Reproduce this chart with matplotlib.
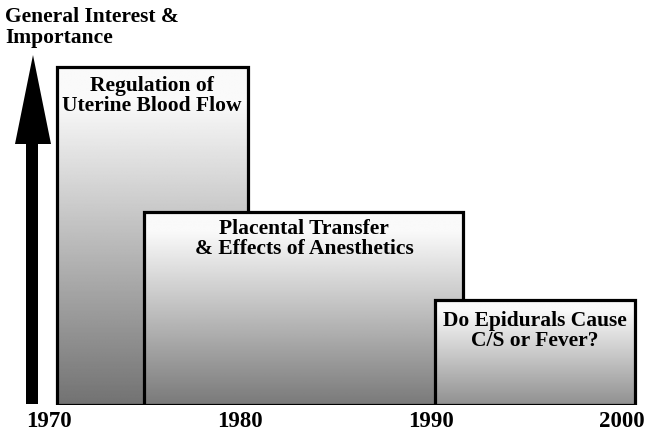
import numpy as np
import matplotlib
matplotlib.use("Agg")
import matplotlib.pyplot as plt
from matplotlib.patches import Rectangle, Polygon

# decades along the time axis
years = [1970, 1980, 1990, 2000]

# research topics: period covered and relative interest (0-100)
topics = ["Regulation of\nUterine Blood Flow",
          "Placental Transfer\n& Effects of Anesthetics",
          "Do Epidurals Cause\nC/S or Fever?"]
start = [1970.4, 1975.0, 1990.2]
end = [1980.4, 1991.7, 2000.7]
interest = [100, 57, 31]

# styling per box: grey at the bottom of the gradient, label offset (pt)
bottom_grey = [0.45, 0.48, 0.57]
label_offset = [7, 5, 8]

W, H = 648, 432
plt.rcParams["font.family"] = ["Liberation Serif", "DejaVu Serif"]
plt.rcParams["font.weight"] = "bold"

fig = plt.figure(figsize=(W / 100, H / 100), dpi=100)
base = 404.5  # pixel row of the box bottoms
ax = fig.add_axes([0, 1 - base / H, 1, base / H])

t = np.linspace(0, 1, 256)
for i, (s, e, h) in enumerate(zip(start, end, interest)):
    # white at the top fading to grey at the bottom
    ramp = np.clip((t - 0.1) / 0.9, 0, 1)
    grey = 0.98 - (0.98 - bottom_grey[i]) * ramp
    ax.imshow(grey[:, None], cmap="gray", vmin=0, vmax=1, extent=(s, e, 0, h),
              origin="upper", aspect="auto", interpolation="bilinear",
              zorder=2 * i + 1)
    ax.add_patch(Rectangle((s, 0), e - s, h, fill=False, lw=2.3,
                           ec="black", zorder=2 * i + 2))
    ax.annotate(topics[i], xy=((s + e) / 2, h), xytext=(0, -label_offset[i]),
                textcoords="offset points", ha="center", va="top",
                fontsize=15.5, fontweight="bold", linespacing=1.0, zorder=10)

ax.set_xlim(1967.435, 1967.435 + W / 19.1)
ax.set_ylim(0, 119.7)
ax.set_xticks(years)
ax.set_xticklabels([str(y) for y in years], fontsize=16.5, fontweight="bold")
ax.tick_params(axis="x", length=0, pad=5)
ax.set_yticks([])
for sp in ax.spines.values():
    sp.set_visible(False)

# big upward arrow on the left
arrow_px = [(26, 404), (38, 404), (38, 144), (51, 144), (33, 55),
            (15, 144), (26, 144)]
fig.add_artist(Polygon([(x / W, 1 - y / H) for x, y in arrow_px],
                       closed=True, fc="black", ec="none",
                       transform=fig.transFigure))

fig.text(5 / W, 1 - 7 / H, "General Interest &\nImportance", ha="left",
         va="top", fontsize=15.5, fontweight="bold", linespacing=1.05)

fig.savefig("out.png", dpi=100)
